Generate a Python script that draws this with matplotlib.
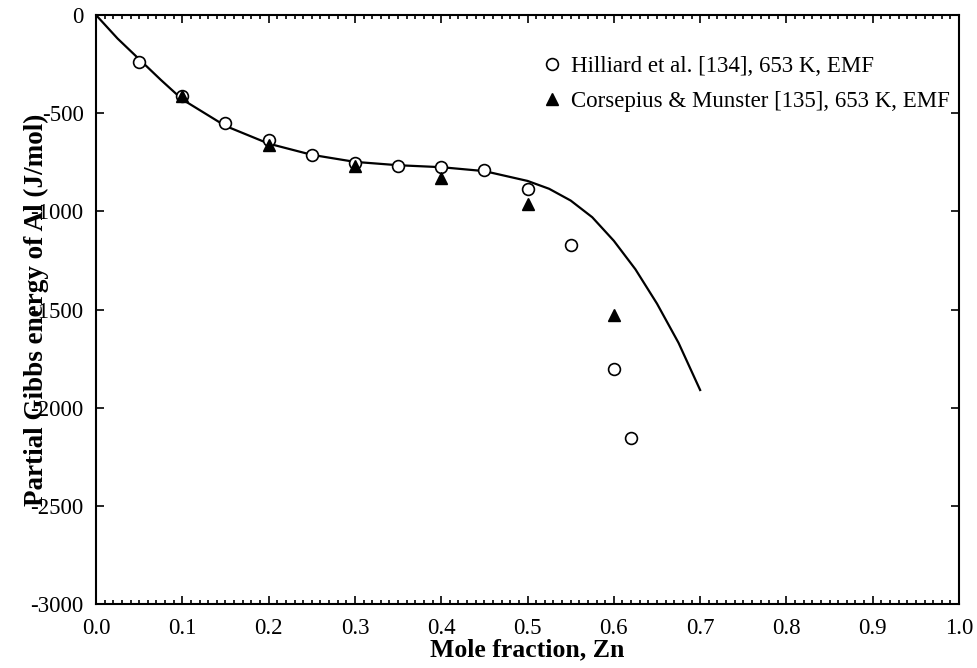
import matplotlib; matplotlib.use('Agg')
from matplotlib import pyplot as plt
from matplotlib.ticker import MultipleLocator

# Calculated curve
calc_x = [0.0, 0.025, 0.05, 0.075, 0.1, 0.15, 0.2, 0.25, 0.3, 0.35, 0.4, 0.45,
          0.5, 0.525, 0.55, 0.575, 0.6, 0.625, 0.65, 0.675, 0.7]
calc_y = [0, -120, -225, -330, -430, -565, -655, -712, -748, -765, -775, -795,
          -845, -885, -945, -1030, -1150, -1295, -1470, -1670, -1910]

# Hilliard et al. [134]
hil_x = [0.05, 0.1, 0.15, 0.2, 0.25, 0.3, 0.35, 0.4, 0.45, 0.5, 0.55, 0.6, 0.62]
hil_y = [-240, -410, -551, -638, -714, -755, -770, -776, -791, -888, -1173, -1801, -2153]

# Corsepius & Munster [135]
cor_x = [0.1, 0.2, 0.3, 0.4, 0.5, 0.6]
cor_y = [-413, -663, -770, -832, -964, -1526]

plt.rcParams['font.family'] = ['Liberation Serif', 'DejaVu Serif']
plt.rcParams['axes.unicode_minus'] = False

fig = plt.figure(figsize=(9.78, 6.68), dpi=100)
ax = fig.add_axes([0.0982, 0.0958, 0.8824, 0.8817])

ax.plot(calc_x, calc_y, color='black', linewidth=1.6)
ax.plot(hil_x, hil_y, linestyle='none', marker='o', markersize=8.5,
        markerfacecolor='white', markeredgecolor='black', markeredgewidth=1.2,
        label='Hilliard et al. [134], 653 K, EMF')
ax.plot(cor_x, cor_y, linestyle='none', marker='^', markersize=8,
        color='black', label='Corsepius & Munster [135], 653 K, EMF')

ax.set_xlim(0, 1.0)
ax.set_ylim(-3000, 0)
ax.xaxis.set_major_locator(MultipleLocator(0.1))
ax.xaxis.set_minor_locator(MultipleLocator(0.01))
ax.yaxis.set_major_locator(MultipleLocator(500))
ax.xaxis.set_major_formatter(plt.FormatStrFormatter('%.1f'))

ax.tick_params(which='both', direction='in', top=True, right=True,
               labelsize=16.5, width=1.2)
ax.tick_params(which='major', length=6)
ax.tick_params(which='minor', length=3)
ax.tick_params(axis='x', pad=10)
ax.tick_params(axis='y', pad=9)
for s in ax.spines.values():
    s.set_linewidth(1.5)

ax.set_xlabel('Mole fraction, Zn', fontsize=18.5, fontweight='bold')
ax.set_ylabel('Partial Gibbs energy of Al (J/mol)', fontsize=19.5,
              fontweight='bold')
ax.xaxis.set_label_coords(0.5, -0.058)
ax.yaxis.set_label_coords(-0.055, 0.5)

ax.legend(loc='upper right', frameon=False, fontsize=16.5, handletextpad=0.3,
          handlelength=1.0, bbox_to_anchor=(1.013, 0.965), labelspacing=0.6)

plt.savefig('out.png', dpi=100)
